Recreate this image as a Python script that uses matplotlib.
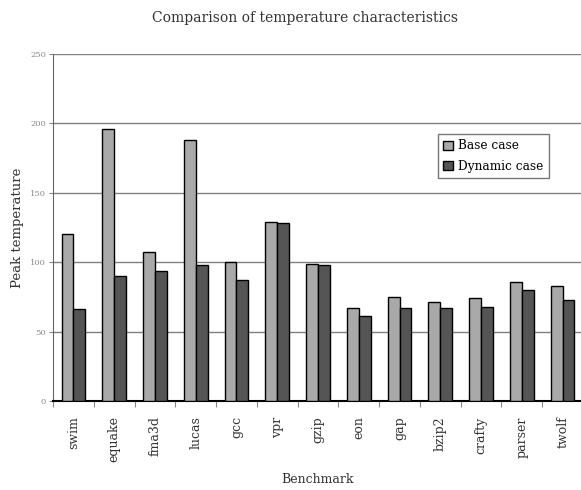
import matplotlib
matplotlib.use('Agg')
import matplotlib.pyplot as plt
import numpy as np

benchmarks = ['swim', 'equake', 'fma3d', 'lucas', 'gcc', 'vpr', 'gzip',
              'eon', 'gap', 'bzip2', 'crafty', 'parser', 'twolf']
base_case = [120, 196, 107, 188, 100, 129, 99, 67, 75, 71, 74, 86, 83]
dynamic_case = [66, 90, 94, 98, 87, 128, 98, 61, 67, 67, 68, 80, 73]

plt.rcParams['font.family'] = ['DejaVu Serif']

fig = plt.figure(figsize=(5.81, 4.9), dpi=100)
# axes from x=53 to ~583 px, y=54 to 401 px
ax = fig.add_axes([53 / 581, (490 - 401) / 490, 530 / 581, 347 / 490])

x = np.arange(len(benchmarks))
w = 0.29
ax.bar(x - w / 2, base_case, w, color='#a9a9a9', edgecolor='black',
       linewidth=1.0, label='Base case', zorder=3)
ax.bar(x + w / 2, dynamic_case, w, color='#555555', edgecolor='black',
       linewidth=1.0, label='Dynamic case', zorder=3)

ax.set_xlim(-0.5, len(benchmarks) - 0.5)
ax.set_ylim(0, 250)
ax.set_yticks([0, 50, 100, 150, 200, 250])
ax.yaxis.grid(True, color='#808080', linewidth=1.0, zorder=0)
ax.tick_params(axis='y', labelsize=6, labelcolor='#888888', length=3,
               color='#888888', pad=2)

# category boundary ticks, labels at centres
ax.set_xticks(np.arange(len(benchmarks) + 1) - 0.5)
ax.set_xticklabels([])
ax.set_xticks(x, minor=True)
ax.set_xticklabels(benchmarks, minor=True, rotation=90, fontsize=9,
                   color='#333333')
ax.tick_params(axis='x', which='major', length=4, color='#888888')
ax.tick_params(axis='x', which='minor', length=0, pad=11)

for s in ['top', 'right']:
    ax.spines[s].set_visible(False)
ax.spines['left'].set_color('#666666')
ax.spines['bottom'].set_color('black')
ax.spines['bottom'].set_linewidth(1.5)

ax.set_xlabel('Benchmark', fontsize=9, color='#333333')
ax.xaxis.set_label_coords(0.5, (401 - 473) / 347)
ax.set_ylabel('Peak temperature', fontsize=9.5, color='#333333', labelpad=4)
fig.text(305 / 581, 1 - 18 / 490, 'Comparison of temperature characteristics',
         ha='center', va='center', fontsize=10, color='#333333')

ax.legend(loc='upper left', bbox_to_anchor=((438 - 53) / 530, (401 - 134) / 347),
          frameon=True, fancybox=False, edgecolor='#555555', fontsize=8.7,
          handlelength=0.8, handleheight=0.8, handletextpad=0.4,
          borderpad=0.45, borderaxespad=0, labelspacing=0.6)

fig.savefig('out.png', dpi=100)
